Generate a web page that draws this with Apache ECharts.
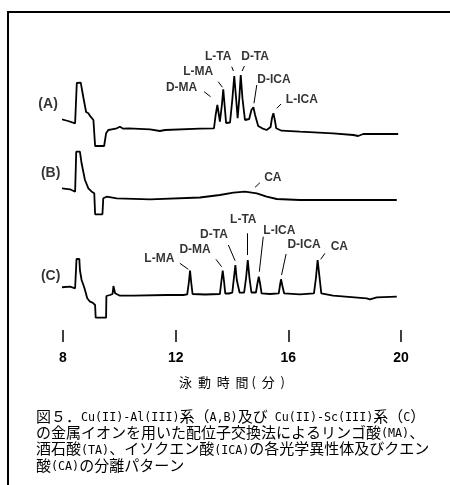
<!DOCTYPE html>
<html>
<head>
<meta charset="utf-8">
<script src="https://cdn.jsdelivr.net/npm/echarts@6/dist/echarts.min.js"></script>
<style>
  html, body { margin: 0; padding: 0; background: #fff; }
  #chart { width: 450px; height: 485px; }
</style>
</head>
<body>
<div id="chart"></div>
<script>
// migration time axis (min)
const timeMin = 8;
const timeMax = 20;
const timeStep = 4;

// detector signal, [time, signal] relative to each trace's baseline
const traceA = [
  [7.95, 9.7], [8.18, 8], [8.43, 5.7], [8.47, 6], [8.49, 46], [8.63, 46.3], [8.72, 32],
  [8.82, 17], [8.90, 15.7], [8.98, 12.3], [9.08, 9], [9.12, 10.7], [9.14, -17], [9.46, -17],
  [9.53, -4.3], [9.61, -1], [9.73, -0.3], [9.91, 0.7], [10.02, 2.3], [10.14, 0.3], [10.32, 0.7],
  [11.09, -0.3], [11.44, -2], [11.62, -1], [12.86, 0.3], [13.36, 0.7],
  [13.42, 14], [13.48, 24], [13.53, 15], [13.57, 7.3],
  [13.645, 25], [13.69, 39.7], [13.74, 23], [13.79, 6], [13.93, 6.5],
  [14.01, 29], [14.08, 53], [14.15, 29], [14.20, 10.7],
  [14.26, 31], [14.31, 54], [14.37, 31], [14.46, 9],
  [14.61, 10], [14.69, 19], [14.76, 21.7], [14.82, 14], [14.93, 3], [15.07, 0.7], [15.23, -1],
  [15.37, 2], [15.42, 11], [15.47, 15.7], [15.52, 9], [15.57, 0.7], [15.76, -1.7],
  [16.41, -2.7], [17.59, -4.3], [18.31, -6], [18.48, -7], [18.66, -5], [19.90, -5]
];

const traceB = [
  [7.95, 10.7], [8.25, 9.7], [8.43, 7.3], [8.45, 7.3], [8.47, 47.3], [8.60, 47.3], [8.66, 35.7],
  [8.78, 19], [8.90, 10.7], [9.02, 7.3], [9.11, 5.7], [9.12, 5.7], [9.14, -15.3], [9.40, -15.3],
  [9.43, 0.7], [9.55, 2.3], [9.91, 0.7], [11.09, -0.3], [12.86, 1.5], [13.57, 4], [14.05, 6.3],
  [14.46, 7.3], [14.88, 5.7], [15.23, 2.3], [15.59, 0], [16.41, -1], [17.59, -1], [18.78, -1],
  [19.85, -1]
];

const traceC = [
  [7.95, 7.7], [8.25, 8.3], [8.43, 6.7], [8.46, 7], [8.48, 36], [8.58, 36], [8.60, 25],
  [8.66, 15], [8.75, 8], [8.80, 3], [8.86, -3.3], [8.96, -6.7], [9.05, -7.7], [9.14, -10],
  [9.16, -22.7], [9.53, -22.7], [9.54, -1], [9.67, 0], [9.76, 1], [9.79, 9], [9.85, 1.7],
  [10.02, -0.7], [10.50, -0.7], [11.68, 0], [12.27, 0],
  [12.41, 0.7], [12.47, 13], [12.51, 24.3], [12.55, 13], [12.60, 1], [13.04, 0.5],
  [13.57, 1], [13.62, 13], [13.67, 24.3], [13.72, 13], [13.76, 1.5], [13.89, 1.5],
  [14.01, 2.3], [14.06, 15], [14.12, 30], [14.17, 15], [14.27, 2.3], [14.43, 2.3],
  [14.50, 17], [14.56, 35], [14.62, 17], [14.69, 2.5], [14.75, 2.3],
  [14.85, 2.5], [14.90, 11], [14.95, 18.3], [15.00, 11], [15.05, 1.7], [15.35, 1],
  [15.66, 1.7], [15.70, 9], [15.74, 15.7], [15.79, 9], [15.85, 1.7], [16.41, 0.7],
  [16.91, 1.7], [16.98, 17], [17.04, 35], [17.11, 17], [17.17, 1.7],
  [17.59, -0.7], [18.78, -3.3], [18.90, -4.3], [19.14, -2.3], [19.85, -1.7]
];

// peak names: [text, time, signal]
const peaksA = [
  ['D-MA', 12.21, 41.7], ['L-MA', 12.80, 57.3], ['L-TA', 13.51, 72.3],
  ['D-TA', 14.82, 72.3], ['D-ICA', 15.49, 49], ['L-ICA', 16.48, 29.7]
];
const peaksB = [['CA', 15.45, 21.3]];
const peaksC = [
  ['L-MA', 11.42, 36], ['D-MA', 12.69, 45], ['D-TA', 13.36, 60.7], ['L-TA', 14.40, 75.7],
  ['L-ICA', 15.68, 64.3], ['D-ICA', 16.56, 50], ['CA', 17.81, 48.3]
];

// leader lines: [t1, s1, t2, s2]
const leadersA = [
  [13.01, 37.3, 13.24, 32.3], [13.51, 47.3, 13.66, 41.7], [13.99, 62.3, 14.05, 58],
  [14.44, 63, 14.36, 58], [14.88, 44, 14.78, 25.7], [15.74, 25, 15.59, 20.7]
];
const leadersB = [[14.99, 16.3, 14.82, 11.7]];
const leadersC = [
  [12.15, 31.7, 12.45, 25.7], [13.43, 35.7, 13.63, 28.3], [13.87, 50, 14.11, 34.3],
  [14.54, 61.7, 14.54, 40], [15.11, 58.3, 14.97, 23.3], [15.92, 41, 15.76, 20],
  [17.30, 41.7, 17.15, 35.7]
];

// panel tags: [text, time, signal]
const tagA = ['(A)', 7.47, 25];
const tagB = ['(B)', 7.56, 25.7];
const tagC = ['(C)', 7.56, 19];

const axisName = '泳  動  時  間 (  分  )';

const captionLines = [
  '{j|図５．}{m|Cu(II)-Al(III)}{j|系（}{m|A,B)}{j|及び}{m| Cu(II)-Sc(III)}{j|系（}{m|C}{j|）}',
  '{j|の金属イオンを用いた配位子交換法によるリンゴ酸}{m|(MA)}{j|、}',
  '{j|酒石酸}{m|(TA)}{j|、イソクエン酸}{m|(ICA)}{j|の各光学異性体及びクエン}',
  '{j|酸}{m|(CA)}{j|の分離パターン}'
];

// vertical offsets of the three traces on the shared value axis
const offA = 201;
const offB = 131;
const offC = 35;

const chart = echarts.init(document.getElementById('chart'));

function lift(points, off) {
  return points.map(p => [p[0], p[1] + off]);
}

function traceSeries(name, points, leaders, off) {
  return {
    name: name,
    type: 'line',
    data: lift(points, off),
    showSymbol: false,
    symbol: 'none',
    silent: true,
    animation: false,
    lineStyle: { color: '#000', width: 1.8 },
    markLine: {
      silent: true,
      animation: false,
      symbol: ['none', 'none'],
      label: { show: false },
      lineStyle: { color: '#000', width: 1, type: 'solid' },
      data: leaders.map(l => [
        { coord: [l[0], l[1] + off] },
        { coord: [l[2], l[3] + off] }
      ])
    }
  };
}

function labelSeries(labels, off, size) {
  return {
    type: 'scatter',
    symbolSize: 1,
    clip: false,
    silent: true,
    animation: false,
    itemStyle: { color: 'transparent' },
    data: labels.map(l => ({ name: l[0], value: [l[1], l[2] + off] })),
    label: {
      show: true,
      position: 'inside',
      formatter: '{b}',
      color: '#000',
      fontFamily: 'Liberation Sans',
      fontWeight: 'bold',
      fontSize: size
    }
  };
}

chart.setOption({
  backgroundColor: '#fff',
  animation: false,
  title: {
    text: captionLines.join('\n'),
    left: 36,
    top: 408,
    padding: 0,
    textStyle: {
      fontFamily: 'Noto Sans CJK JP',
      fontWeight: 'normal',
      fontSize: 15,
      lineHeight: 16.3,
      color: '#000',
      rich: {
        j: {
          fontFamily: 'Noto Sans CJK JP', fontSize: 15, lineHeight: 16.3,
          verticalAlign: 'middle', color: '#000'
        },
        m: {
          fontFamily: 'DejaVu Sans Mono', fontSize: 11.7, lineHeight: 12.3,
          padding: [4, 0, 0, 0],
          verticalAlign: 'middle', color: '#000'
        }
      }
    }
  },
  graphic: [{
    type: 'rect',
    shape: { x: 8, y: 12, width: 520, height: 520 },
    style: { fill: 'none', stroke: '#000', lineWidth: 2 },
    silent: true
  }],
  grid: { left: 63, right: 49, top: 40, bottom: 155 },
  xAxis: {
    type: 'value',
    min: timeMin,
    max: timeMax,
    interval: timeStep,
    name: axisName,
    nameLocation: 'middle',
    nameGap: 46,
    nameTextStyle: { fontFamily: 'Noto Sans CJK JP', fontSize: 13, color: '#000' },
    axisLine: { show: false },
    axisTick: { show: true, length: 12, lineStyle: { color: '#000', width: 1.5 } },
    axisLabel: {
      margin: 21,
      color: '#000',
      fontFamily: 'Liberation Sans',
      fontWeight: 'bold',
      fontSize: 14
    },
    splitLine: { show: false }
  },
  yAxis: { type: 'value', min: 0, max: 290, show: false },
  series: [
    traceSeries('A', traceA, leadersA, offA),
    traceSeries('B', traceB, leadersB, offB),
    traceSeries('C', traceC, leadersC, offC),
    labelSeries(peaksA, offA, 12),
    labelSeries(peaksB, offB, 12),
    labelSeries(peaksC, offC, 12),
    labelSeries([tagA], offA, 14),
    labelSeries([tagB], offB, 14),
    labelSeries([tagC], offC, 14)
  ]
});
</script>
</body>
</html>
